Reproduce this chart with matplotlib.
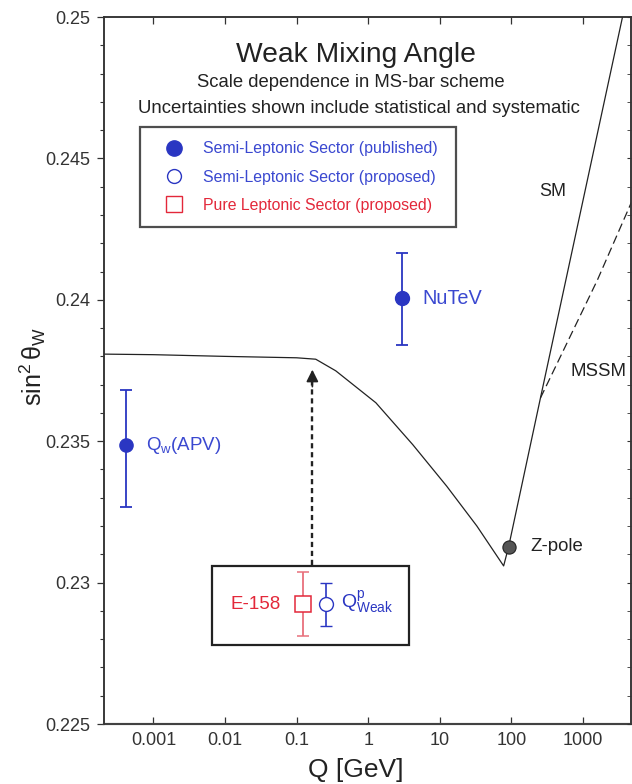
import matplotlib
matplotlib.use('Agg')
import matplotlib.pyplot as plt
from matplotlib.lines import Line2D
from matplotlib.patches import Rectangle

plt.rcParams['font.family'] = ['Liberation Sans', 'DejaVu Sans']
plt.rcParams['mathtext.fontset'] = 'custom'
plt.rcParams['mathtext.rm'] = 'Liberation Sans'
plt.rcParams['mathtext.it'] = 'Liberation Sans:italic'
plt.rcParams['mathtext.bf'] = 'Liberation Sans:bold'

# SM running of sin^2 theta_W
sm_q = [2.04e-4, 0.001, 0.01, 0.1, 0.185, 0.352, 1.28, 4.19, 12.5, 33, 78, 91.6, 255, 3570]
sm_s = [0.23808, 0.23806, 0.23800, 0.23795, 0.23790, 0.23749, 0.23636, 0.23488,
        0.23341, 0.23200, 0.23059, 0.23127, 0.23653, 0.25]
# MSSM branch
mssm_q = [255, 1592, 4930]
mssm_s = [0.23653, 0.2407, 0.24354]

# measurements
apv_q, apv_s, apv_lo, apv_hi = 4.1e-4, 0.23485, 0.00218, 0.00197
nutev_q, nutev_s, nutev_lo, nutev_hi = 3.0, 0.24006, 0.00167, 0.00159
zpole_q, zpole_s = 91.6, 0.23127
e158_q, e158_s, e158_lo, e158_hi = 0.123, 0.22924, 0.00112, 0.00114
qweak_q, qweak_s, qweak_lo, qweak_hi = 0.255, 0.22924, 0.00077, 0.00076
arrow_q, arrow_from, arrow_to = 0.166, 0.23062, 0.23753

xticks = [0.001, 0.01, 0.1, 1, 10, 100, 1000]
xticklabels = ['0.001', '0.01', '0.1', '1', '10', '100', '1000']
yticks = [0.225, 0.23, 0.235, 0.24, 0.245, 0.25]
yticklabels = ['0.225', '0.23', '0.235', '0.24', '0.245', '0.25']

blue = '#2a36c2'
blue_txt = '#3a48d0'
red = '#e3283a'
dark = '#222222'

fig = plt.figure(figsize=(6.32, 7.84), dpi=100)
ax = fig.add_axes([0.1646, 0.0765, 0.8339, 0.9018])
ax.set_xscale('log')
ax.set_xlim(2.04e-4, 4700)
ax.set_ylim(0.225, 0.25)

# curves
ax.plot(sm_q, sm_s, color=dark, lw=0.9, zorder=3)
ax.plot(mssm_q, mssm_s, color=dark, lw=0.9, dashes=(7, 3.5), zorder=3)

# published points
ax.errorbar([apv_q], [apv_s], yerr=[[apv_lo], [apv_hi]], fmt='o', color=blue,
            ms=9.5, capsize=4.5, elinewidth=1.3, capthick=1.3, zorder=5)
ax.errorbar([nutev_q], [nutev_s], yerr=[[nutev_lo], [nutev_hi]], fmt='o', color=blue,
            ms=10, capsize=4.5, elinewidth=1.3, capthick=1.3, zorder=5)
ax.plot([zpole_q], [zpole_s], 'o', ms=9.5, mfc='#555555', mec='#222222', mew=0.8, zorder=6)

# inset box with proposed measurements
ax.add_patch(Rectangle((0.2044, 0.1117), 0.3743, 0.1122, transform=ax.transAxes,
                       facecolor='white', edgecolor=dark, lw=1.6, zorder=4))
ax.errorbar([e158_q], [e158_s], yerr=[[e158_lo], [e158_hi]], fmt='s', color='#e8707c',
            mfc='white', mec=red, ms=11, mew=1.1, capsize=4.5, elinewidth=1.3,
            capthick=1.8, ecolor='#e8707c', zorder=5)
ax.errorbar([qweak_q], [qweak_s], yerr=[[qweak_lo], [qweak_hi]], fmt='o', color=blue,
            mfc='white', mec=blue, ms=10, mew=1.0, capsize=4.5, elinewidth=1.2,
            capthick=1.8, zorder=5)

# dashed arrow
ax.plot([arrow_q, arrow_q], [arrow_from, arrow_to - 0.0004], color=dark, lw=1.7,
        dashes=(2.2, 1.6), zorder=3)
ax.annotate('', xy=(arrow_q, arrow_to), xytext=(arrow_q, arrow_to - 0.0006),
            arrowprops=dict(arrowstyle='-|>', color=dark, lw=1.2,
                            mutation_scale=18, shrinkA=0, shrinkB=0), zorder=3)

# labels on the plot
ax.text(apv_q * 1.95, apv_s, r'Q$_\mathrm{w}$(APV)', color=blue_txt, fontsize=13.5,
        va='center', ha='left', zorder=6)
ax.text(5.7, nutev_s, 'NuTeV', color=blue_txt, fontsize=14.3, va='center', ha='left')
ax.text(185, zpole_s, 'Z-pole', color=dark, fontsize=13.4, va='center', ha='left')
ax.text(376, 0.24384, 'SM', color=dark, fontsize=13, va='center', ha='center')
ax.text(676, 0.23747, 'MSSM', color=dark, fontsize=13.4, va='center', ha='left')
ax.text(0.0597, e158_s, 'E-158', color=red, fontsize=13.5, va='center', ha='right', zorder=6)
ax.text(0.414, qweak_s + 0.00005, r'Q$^\mathrm{p}_\mathrm{Weak}$', color=blue, fontsize=14,
        va='center', ha='left', zorder=6)

# titles
ax.text(0.478, 0.946, 'Weak Mixing Angle', transform=ax.transAxes, ha='center',
        va='center', fontsize=20.3, color=dark)
ax.text(0.469, 0.907, 'Scale dependence in MS-bar scheme', transform=ax.transAxes,
        ha='center', va='center', fontsize=13.3, color=dark)
ax.text(0.4836, 0.871, 'Uncertainties shown include statistical and systematic',
        transform=ax.transAxes, ha='center', va='center', fontsize=13.4, color=dark)

# legend
handles = [
    Line2D([], [], ls='none', marker='o', ms=11, color=blue),
    Line2D([], [], ls='none', marker='o', ms=10, mfc='white', mec=blue, mew=1.0),
    Line2D([], [], ls='none', marker='s', ms=11, mfc='white', mec=red, mew=1.0),
]
labels = ['Semi-Leptonic Sector (published)', 'Semi-Leptonic Sector (proposed)',
          'Pure Leptonic Sector (proposed)']
leg = ax.legend(handles, labels, loc='upper left', bbox_to_anchor=(0.0683, 0.700, 0.600, 0.1444),
                mode='expand', fontsize=11.4, frameon=True, fancybox=False,
                borderpad=0.9, labelspacing=0.84, handlelength=2.5, handletextpad=0.58,
                borderaxespad=0)
leg.get_frame().set_edgecolor(dark)
leg.get_frame().set_linewidth(1.6)
for t, c in zip(leg.get_texts(), [blue_txt, blue_txt, red]):
    t.set_color(c)

# axes and ticks
ax.set_xticks(xticks)
ax.set_xticklabels(xticklabels)
ax.xaxis.set_minor_locator(matplotlib.ticker.NullLocator())
ax.set_yticks(yticks)
ax.set_yticklabels(yticklabels)
ax.yaxis.set_minor_locator(matplotlib.ticker.MultipleLocator(0.001))
ax.tick_params(axis='x', which='major', direction='in', top=True, length=5, width=0.9,
               pad=6, labelsize=13, colors='#333333')
ax.tick_params(axis='y', which='major', direction='out', length=5, width=0.9,
               pad=5, labelsize=13, colors='#333333')
ax.tick_params(axis='y', which='minor', direction='out', length=3, width=0.8, colors='#333333')

ax2 = ax.twinx()
ax2.set_ylim(0.225, 0.25)
ax2.yaxis.set_major_locator(matplotlib.ticker.MultipleLocator(0.005))
ax2.yaxis.set_minor_locator(matplotlib.ticker.MultipleLocator(0.001))
ax2.tick_params(axis='y', which='both', direction='in', length=3, labelright=False,
                colors='#333333')
for a in (ax, ax2):
    for s in a.spines.values():
        s.set_color('#333333')
        s.set_linewidth(1.1)
ax.spines['bottom'].set_color('#777777')
ax.spines['bottom'].set_linewidth(1.6)

ax.set_xlabel('Q [GeV]', fontsize=19, color=dark)
ax.xaxis.label.set_va('center')
ax.xaxis.set_label_coords(0.478, -0.065)
ax.set_ylabel(r'sin$^2\,\mathrm{\theta}_\mathrm{W}$', fontsize=18, color=dark)
ax.yaxis.label.set_va('center')
ax.yaxis.set_label_coords(-0.135, 0.506)

fig.savefig('out.png', dpi=100)
